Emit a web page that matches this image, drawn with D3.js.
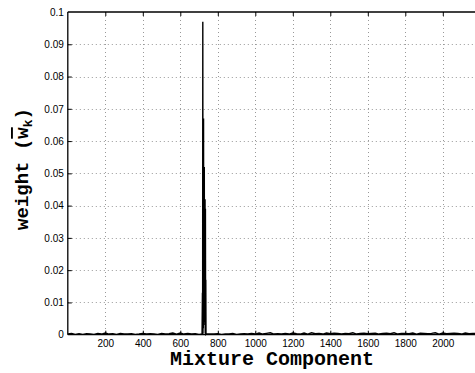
<!DOCTYPE html>
<html>
<head>
<meta charset="utf-8">
<script src="https://cdn.jsdelivr.net/npm/d3@7"></script>
<style>
  html, body { margin: 0; padding: 0; background: #fff; }
  svg { display: block; }
</style>
</head>
<body>
<svg id="chart" width="475" height="373"></svg>
<script>
// ---- data ----
const xTicks = [200, 400, 600, 800, 1000, 1200, 1400, 1600, 1800, 2000];
const yTicks = [0, 0.01, 0.02, 0.03, 0.04, 0.05, 0.06, 0.07, 0.08, 0.09, 0.1];
const yTickLabels = ["0", "0.01", "0.02", "0.03", "0.04", "0.05", "0.06", "0.07", "0.08", "0.09", "0.1"];

// background weights, sampled every 20 components (0..2180)
const noiseStep = 20;
const noiseWeights = [
  0.0002,0.0004,0.0001,0.0003,0.0001,0.0003,0.0002,0.0001,0.0004,0.0002,
  0.0005,0.0002,0.0003,0.0001,0.0004,0.0002,0.0002,0.0003,0.0001,0.0002,
  0.0004,0.0002,0.0003,0.0002,0.0001,0.0004,0.0002,0.0003,0.0005,0.0002,
  0.0005,0.0002,0.0004,0.0002,0.0003,0.0001,0.0002,0.0003,0.0002,0.0002,
  0.0003,0.0001,0.0002,0.0002,0.0004,0.0001,0.0002,0.0003,0.0002,0.0004,
  0.0002,0.0005,0.0002,0.0004,0.0006,0.0002,0.0003,0.0002,0.0004,0.0002,
  0.0005,0.0003,0.0002,0.0005,0.0002,0.0006,0.0003,0.0004,0.0002,0.0005,
  0.0003,0.0005,0.0004,0.0002,0.0004,0.0003,0.0006,0.0002,0.0004,0.0005,
  0.0003,0.0004,0.0005,0.0002,0.0004,0.0005,0.0003,0.0006,0.0002,0.0004,
  0.0004,0.0003,0.0005,0.0002,0.0005,0.0004,0.0003,0.0004,0.0006,0.0002,
  0.0005,0.0003,0.0004,0.0005,0.0004,0.0002,0.0005,0.0003,0.0004,0.0004
];
// the dominant cluster of components
const spikeComponents = [716, 718, 719, 720, 721, 722, 723, 724, 725, 726, 727, 728, 729, 730, 731, 732, 733, 734, 735, 736, 737, 739];
const spikeWeights    = [0.0002, 0.013, 0.0002, 0.097, 0.0003, 0.067, 0.002, 0.067, 0.003, 0.052, 0.013, 0.052, 0.004, 0.042, 0.017, 0.042, 0.0003, 0.039, 0.0002, 0.017, 0.0001, 0.0002];

// ---- build series ----
const series = [];
noiseWeights.forEach((w, i) => {
  const c = i * noiseStep;
  if (c < 710 || c > 745) series.push({c: c, w: w});
});
spikeComponents.forEach((c, i) => series.push({c: c, w: spikeWeights[i]}));
series.sort((a, b) => a.c - b.c);

// ---- layout ----
const svg = d3.select("#chart");
const L = 67.8, R = 480.3, T = 12, B = 334.7;
const x = d3.scaleLinear().domain([0, 2200]).range([L, R]);
const y = d3.scaleLinear().domain([0, 0.1]).range([B, T]);

svg.append("rect").attr("width", 475).attr("height", 373).attr("fill", "#fff");

// grid
const grid = svg.append("g").attr("stroke", "#999").attr("stroke-width", 1).attr("stroke-dasharray", "1,3");
grid.selectAll("line.v").data(xTicks).join("line")
  .attr("x1", d => Math.round(x(d)) + 0.5).attr("x2", d => Math.round(x(d)) + 0.5)
  .attr("y1", T).attr("y2", B);
grid.selectAll("line.h").data(yTicks.slice(1, -1)).join("line")
  .attr("y1", d => Math.round(y(d)) + 0.5).attr("y2", d => Math.round(y(d)) + 0.5)
  .attr("x1", L).attr("x2", 475);

// data line
const line = d3.line().x(d => x(d.c)).y(d => y(d.w));
svg.append("path").datum(series)
  .attr("fill", "none").attr("stroke", "#000").attr("stroke-width", 1.4)
  .attr("d", line);

// axes
const fontTick = "'Liberation Sans', Arial, Helvetica, sans-serif";
const xAxis = svg.append("g").attr("transform", `translate(0,${B})`)
  .call(d3.axisBottom(x).tickValues(xTicks).tickFormat(d3.format("d"))
    .tickSizeInner(-4).tickSizeOuter(0).tickPadding(5));
const xAxisTop = svg.append("g").attr("transform", `translate(0,${T})`)
  .call(d3.axisTop(x).tickValues(xTicks).tickFormat("")
    .tickSizeInner(-4).tickSizeOuter(0));
const yAxis = svg.append("g").attr("transform", `translate(${L},0)`)
  .call(d3.axisLeft(y).tickValues(yTicks).tickFormat((d, i) => yTickLabels[i])
    .tickSizeInner(-4).tickSizeOuter(0).tickPadding(4));
[xAxis, xAxisTop, yAxis].forEach(g => {
  g.select(".domain").remove();
  g.selectAll(".tick line").attr("stroke", "#000").attr("stroke-width", 1);
  g.selectAll("text").attr("font-family", fontTick).attr("font-size", "10px").attr("fill", "#000");
});
yAxis.selectAll(".tick").filter(d => d === 0 || d === 0.1).select("line").remove();

// borders
const border = svg.append("g").attr("stroke", "#000").attr("stroke-width", 1.3).attr("fill", "none");
border.append("line").attr("x1", L).attr("x2", 475).attr("y1", T).attr("y2", T);
border.append("line").attr("x1", L).attr("x2", 475).attr("y1", B).attr("y2", B);
border.append("line").attr("x1", L).attr("x2", L).attr("y1", T).attr("y2", B);

// axis labels
const fontLab = "'Liberation Mono', 'Courier New', monospace";
svg.append("text")
  .attr("x", 272).attr("y", 365).attr("text-anchor", "middle")
  .attr("font-family", fontLab).attr("font-weight", "bold").attr("font-size", "20px")
  .text("Mixture Component");

const yl = svg.append("text")
  .attr("transform", "translate(28,169) rotate(-90)")
  .attr("text-anchor", "middle")
  .attr("font-family", fontLab).attr("font-weight", "bold").attr("font-size", "19px");
yl.append("tspan").text("weight  (");
yl.append("tspan").attr("text-decoration", "overline").text("w");
yl.append("tspan").attr("font-size", "13px").attr("dy", "4").text("k");
yl.append("tspan").attr("dy", "-4").text(")");
</script>
</body>
</html>
